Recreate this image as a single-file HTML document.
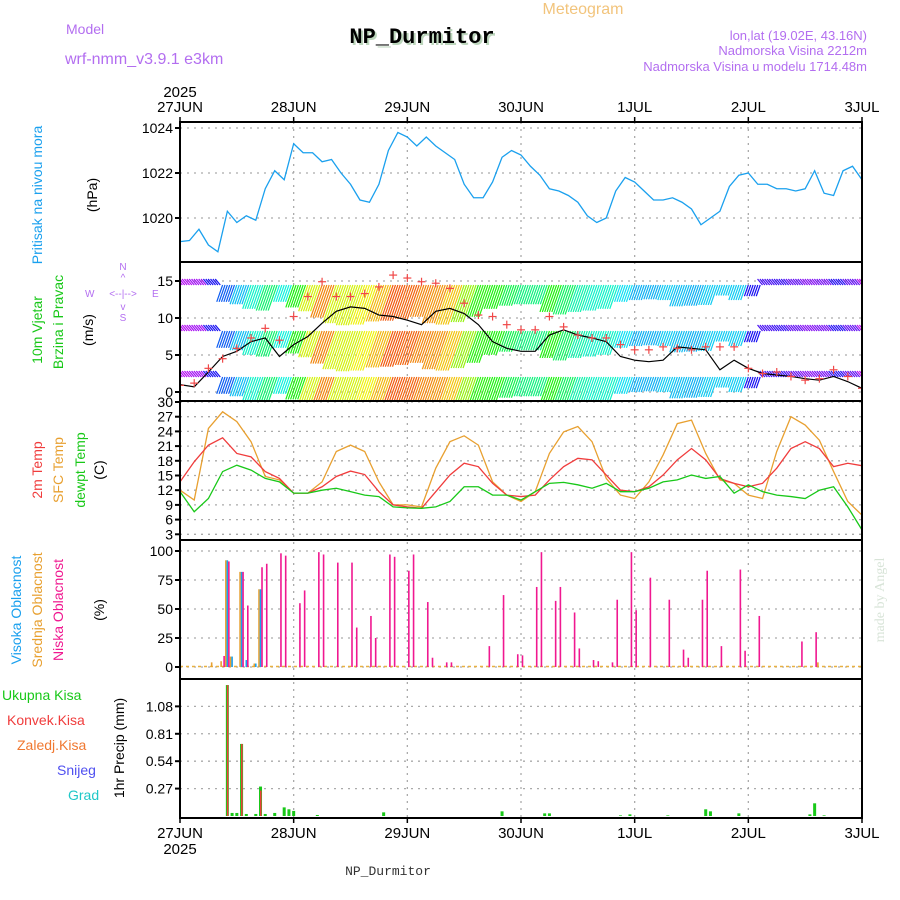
<!DOCTYPE html>
<html><head><meta charset="utf-8"><title>Meteogram NP_Durmitor</title>
<style>
html,body{margin:0;padding:0;background:#fff;}
svg{display:block;font-family:"Liberation Sans",sans-serif;}
</style></head>
<body>
<svg id="chart" width="900" height="900" viewBox="0 0 900 900" xmlns="http://www.w3.org/2000/svg">
<g>
<text x="583" y="14" font-size="16" fill="#f2c47c" text-anchor="middle">Meteogram</text>
<text x="424" y="45" font-size="22" font-weight="bold" font-family="Liberation Mono, monospace" fill="#bcd6bc" text-anchor="middle">NP_Durmitor</text>
<text x="422" y="43" font-size="22" font-weight="bold" font-family="Liberation Mono, monospace" fill="#000" text-anchor="middle">NP_Durmitor</text>
<text x="66" y="34" font-size="14" fill="#b36ef0">Model</text>
<text x="65" y="64" font-size="16" fill="#b36ef0">wrf-nmm_v3.9.1 e3km</text>
<text x="867" y="40" font-size="13" fill="#b36ef0" text-anchor="end">lon,lat (19.02E, 43.16N)</text>
<text x="867" y="55" font-size="13" fill="#b36ef0" text-anchor="end">Nadmorska Visina 2212m</text>
<text x="867" y="71" font-size="13" fill="#b36ef0" text-anchor="end">Nadmorska Visina u modelu 1714.48m</text>
</g>
<g font-size="14">
<text transform="translate(42,195) rotate(-90)" text-anchor="middle" fill="#1aa0ee">Pritisak na nivou mora</text>
<text transform="translate(97,195) rotate(-90)" text-anchor="middle" fill="#000">(hPa)</text>
<text transform="translate(42,330) rotate(-90)" text-anchor="middle" fill="#18c818">10m Vjetar</text>
<text transform="translate(63,322) rotate(-90)" text-anchor="middle" fill="#18c818">Brzina i Pravac</text>
<text transform="translate(93,330) rotate(-90)" text-anchor="middle" fill="#000">(m/s)</text>
<g fill="#b36ef0" font-size="10">
<text x="123" y="270" text-anchor="middle">N</text>
<text x="123" y="281" text-anchor="middle">^</text>
<text x="123" y="297" text-anchor="middle">&lt;--|--&gt;</text>
<text x="85" y="297">W</text><text x="152" y="297">E</text>
<text x="123" y="310" text-anchor="middle">v</text>
<text x="123" y="321" text-anchor="middle">S</text>
</g>
<text transform="translate(42,470) rotate(-90)" text-anchor="middle" fill="#f03c3c">2m Temp</text>
<text transform="translate(63,470) rotate(-90)" text-anchor="middle" fill="#e8a030">SFC Temp</text>
<text transform="translate(85,470) rotate(-90)" text-anchor="middle" fill="#18c818">dewpt Temp</text>
<text transform="translate(104,470) rotate(-90)" text-anchor="middle" fill="#000">(C)</text>
<text transform="translate(21,610) rotate(-90)" text-anchor="middle" fill="#1aa0ee">Visoka Oblacnost</text>
<text transform="translate(42,610) rotate(-90)" text-anchor="middle" fill="#e8a030">Srednja Oblacnost</text>
<text transform="translate(63,610) rotate(-90)" text-anchor="middle" fill="#f01890">Niska Oblacnost</text>
<text transform="translate(104,610) rotate(-90)" text-anchor="middle" fill="#000">(%)</text>
<text x="2" y="700" fill="#18c818">Ukupna Kisa</text>
<text x="7" y="725" fill="#f03c3c">Konvek.Kisa</text>
<text x="17" y="750" fill="#f07830">Zaledj.Kisa</text>
<text x="57" y="775" fill="#5050f0">Snijeg</text>
<text x="68" y="800" fill="#20c8c8">Grad</text>
<text transform="translate(124,748) rotate(-90)" text-anchor="middle" fill="#000">1hr Precip (mm)</text>
<text transform="translate(884,600) rotate(-90)" text-anchor="middle" fill="#d8e4d8" font-family="Liberation Serif, serif">made by Angel</text>
<text x="388" y="875" font-size="13" font-family="Liberation Mono, monospace" fill="#333" text-anchor="middle">NP_Durmitor</text>
</g>
<g id="plots"></g>
</svg>
<script>
const dayLabels=["27JUN","28JUN","29JUN","30JUN","1JUL","2JUL","3JUL"];
const pressure=[1018.95,1019.0,1019.5,1018.8,1018.5,1020.3,1019.8,1020.1,1019.9,1021.3,1022.1,1021.7,1023.3,1022.9,1022.9,1022.5,1022.6,1022.0,1021.5,1020.8,1020.7,1021.5,1023.0,1023.8,1023.6,1023.2,1023.6,1023.2,1022.9,1022.6,1021.5,1020.9,1020.9,1021.6,1022.7,1023.0,1022.8,1022.3,1021.9,1021.3,1021.2,1021.0,1020.7,1020.1,1019.8,1020.0,1021.2,1021.8,1021.6,1021.2,1020.8,1020.8,1020.9,1020.7,1020.4,1019.7,1020.0,1020.3,1021.4,1021.9,1022.0,1021.5,1021.5,1021.3,1021.3,1021.2,1021.3,1022.1,1021.1,1021.0,1022.1,1022.3,1021.7];
const windSpeed=[1.0,0.7,2.7,4.8,5.5,6.8,7.3,4.8,6.4,7.5,9.3,10.9,11.5,11.3,10.4,10.2,9.7,9.1,10.9,11.3,10.6,9.1,6.8,5.9,5.5,5.5,7.7,8.4,7.7,7.3,6.8,4.8,4.3,4.1,4.3,6.1,5.9,5.7,3.0,4.3,3.2,2.5,2.3,2.1,1.8,1.6,2.1,1.4,0.5];
const windGust=[0.9,1.2,3.2,4.5,5.9,7.3,8.6,7.0,10.2,12.9,14.9,12.9,12.9,13.3,14.2,15.8,15.4,14.9,14.7,14.0,12.0,10.4,10.2,9.1,8.4,8.4,10.2,8.8,7.7,7.3,7.3,6.4,5.7,5.7,6.1,5.9,5.7,6.1,6.1,6.1,3.2,2.5,2.7,2.1,1.6,1.8,3.0,2.1,0.5];
const temp2m=[13.7,17.8,21.2,22.7,19.5,18.8,15.8,14.4,11.4,11.4,12.7,14.8,15.9,15.2,11.7,9.0,8.6,8.3,11.7,15.1,17.5,16.8,13.4,11.0,10.7,11.0,14.1,16.8,18.5,18.2,15.1,12.0,11.7,12.7,15.1,18.2,20.5,18.2,14.4,13.4,12.7,13.4,16.5,20.5,21.9,20.5,16.8,17.5,17.0];
const tempSfc=[12.0,10.0,24.6,28.0,26.0,21.9,14.8,14.1,11.4,11.4,13.7,19.9,21.2,19.9,13.7,9.0,9.0,8.6,16.5,21.9,23.1,21.2,13.7,11.0,9.7,11.7,19.5,23.9,25.0,21.9,14.4,11.0,10.3,13.7,19.2,25.6,26.3,19.5,14.1,13.4,11.0,10.3,19.9,27.0,25.3,22.2,15.8,9.7,6.9];
const dewpoint=[11.7,7.6,10.3,15.8,17.1,16.1,14.4,13.7,11.4,11.4,12.0,12.4,11.7,11.0,10.7,8.6,8.4,8.3,8.6,9.7,12.7,12.7,11.0,11.0,10.0,11.7,13.4,13.6,13.1,12.4,13.4,11.7,11.7,12.4,13.7,14.1,15.1,14.4,14.8,11.4,13.1,11.7,11.0,10.7,10.3,12.0,12.7,8.6,3.9];
const lowCloudHours=[9,10,13,14,17,18,21,22,25,26,29,30,33,36,37,40,41,44,45,48,49,52,53,56,57,65,68,71,72,75,76,79,80,83,84,87,88,91,92,95,96,99,103,106,107,110,111,114,118,119,122,131,134];
const lowCloud=[9.5,91,82,53,86,89,98,96,55,66,99,97,90,90,34,44,25,97,95,83,97,56,8,4,4,18,62,11,10,69,99,57,69,47,16,6,5,4,58,99,49,77,58,15,8,58,83,18,84,14,44,22,30];
const midCloudHours=[7,9,10,11,13,16,17,135];
const midCloud=[4,5,92,9,82,3,67,4];
const highCloudHours=[10,11,13,14,16,17];
const highCloud=[92,9,82,6,3,67];
const precipHours=[10,11,12,13,14,16,17,18,20,22,23,24,29,43,68,77,78,93,95,103,111,112,118,133,134,136];
const precipTotal=[1.29,0.03,0.03,0.71,0.02,0.02,0.29,0.02,0.03,0.085,0.066,0.05,0.01,0.036,0.046,0.026,0.026,0.006,0.016,0.006,0.066,0.046,0.026,0.016,0.125,0.006];
const precipConv=[1.29,0,0,0.71,0,0,0.25,0,0,0,0,0,0,0,0,0,0,0,0,0,0,0,0,0,0,0];

const NS="http://www.w3.org/2000/svg";
const root=document.getElementById('plots');
const L=180,R=862;
const X=h=>L+h*(R-L)/144;
const yP=v=>128+(1024-v)*22.5;
const yW=v=>392-v*7.4;
const yT=v=>402+(30-v)*4.9;
const yC=v=>667-v*1.16;
const yR=v=>816-v*101.5;
const panels=[[122,262],[262,401],[401,540],[540,679],[679,818]];
function mk(tag,attrs,parent){const e=document.createElementNS(NS,tag);for(const k in attrs)e.setAttribute(k,attrs[k]);(parent||root).appendChild(e);return e;}
function txt(x,y,s,attrs,parent){const t=mk('text',Object.assign({x:x,y:y,'font-size':14},attrs),parent);t.textContent=s;return t;}

const defs=mk('defs',{});
panels.forEach((p,i)=>{const c=mk('clipPath',{id:'c'+i},defs);mk('rect',{x:L,y:p[0],width:R-L,height:p[1]-p[0]},c);});

const grid=mk('g',{stroke:'#aaa','stroke-width':1.3,'stroke-dasharray':'2,5'});


for(let d=1;d<6;d++){mk('line',{x1:X(d*24),x2:X(d*24),y1:122,y2:818},grid);}
const yTicks=[[[1024,1022,1020],yP],[[15,10,5,0],yW],[[30,27,24,21,18,15,12,9,6,3],yT],[[100,75,50,25,0],yC],[[1.08,0.81,0.54,0.27],yR]];
const tickG=mk('g',{'font-size':14,'text-anchor':'end'});


yTicks.forEach(([vals,f])=>{vals.forEach(v=>{const y=f(v);mk('line',{x1:L,x2:R,y1:y,y2:y},grid);mk('line',{x1:L-5,x2:L,y1:y,y2:y,stroke:'#000','stroke-width':2},tickG);txt(L-7,y+5,String(v),{},tickG);});});

const pts=pressure.map((v,i)=>X(i*2)+','+yP(v)).join(' ');
const pl=mk('polyline',{points:pts,fill:'none',stroke:'#1aa0ee','stroke-width':1.3,'clip-path':'url(#c0)'});



const wg=mk('g',{'clip-path':'url(#c1)','stroke-width':1.2});


const rows=[285,331,377];
windSpeed.forEach((s,i)=>{
  const g=windGust[i];
  const hue=Math.max(20,Math.min(285,300-g*18));
  const col='hsl('+hue+',90%,50%)';
  for(let k=0;k<6;k++){
    const x=X(i*3)+k*2.37;
    rows.forEach(r=>{
      let len=s*3.5;
      let dx=-len*0.35,dy=len;
      if(s<3){dx=-5;dy=-6;}
      mk('line',{x1:x,y1:r,x2:x+dx,y2:r+dy,stroke:col},wg);
    });
  }
});
const wl=mk('polyline',{points:windSpeed.map((v,i)=>X(i*3)+','+yW(v)).join(' '),fill:'none',stroke:'#000','stroke-width':1.2,'clip-path':'url(#c1)'});


const gg=mk('g',{stroke:'#f04848','stroke-width':1.2,'clip-path':'url(#c1)'});


windGust.forEach((v,i)=>{const x=X(i*3),y=yW(v);mk('line',{x1:x-4,x2:x+4,y1:y,y2:y},gg);mk('line',{x1:x,x2:x,y1:y-4,y2:y+4},gg);});

[[tempSfc,'#e8a030','temp-sfc-line'],[temp2m,'#f03c3c','temp-2m-line'],[dewpoint,'#18c818','dewpoint-line']].forEach(([arr,c,n])=>{
  const p=mk('polyline',{points:arr.map((v,i)=>X(i*3)+','+yT(v)).join(' '),fill:'none',stroke:c,'stroke-width':1.3,'clip-path':'url(#c2)'});
  
  
});

const cb=mk('line',{x1:L,x2:R,y1:666.5,y2:666.5,stroke:'#e8b040','stroke-width':1.5,'stroke-dasharray':'3,3'});


[[midCloudHours,midCloud,'#e8a030',-1.5,'mid-cloud-bar'],[highCloudHours,highCloud,'#1aa0ee',0,'high-cloud-bar'],[lowCloudHours,lowCloud,'#f01890',1.5,'low-cloud-bar']].forEach(([hs,vs,c,off,n])=>{
  hs.forEach((h,i)=>{const y=yC(vs[i]);const b=mk('rect',{x:X(h)+off-0.8,y:y,width:1.6,height:667-y,fill:c});
  
  });
});

precipHours.forEach((h,i)=>{
  const y=yR(precipTotal[i]);
  const b=mk('rect',{x:X(h)-1.5,y:y,width:3,height:816-y,fill:'#18c818'});
  
  
  if(precipConv[i]>0){const yc=yR(precipConv[i]);const c=mk('rect',{x:X(h)-0.5,y:yc,width:1.5,height:816-yc,fill:'#f03c3c'});
  
  }
});

const fr=mk('g',{fill:'none',stroke:'#000','stroke-width':2});


panels.forEach(p=>mk('rect',{x:L,y:p[0],width:R-L,height:p[1]-p[0]},fr));

const xa=mk('g',{'font-size':15,'text-anchor':'middle'});


dayLabels.forEach((s,d)=>{const x=X(d*24);txt(x,112,s,{'font-size':15},xa);txt(x,838,s,{'font-size':15},xa);
  mk('line',{x1:x,x2:x,y1:117,y2:122,stroke:'#000','stroke-width':1.5},xa);mk('line',{x1:x,x2:x,y1:818,y2:823,stroke:'#000','stroke-width':1.5},xa);});
txt(180,97,'2025',{'font-size':15},xa);
txt(180,854,'2025',{'font-size':15},xa);
</script>
</body></html>
